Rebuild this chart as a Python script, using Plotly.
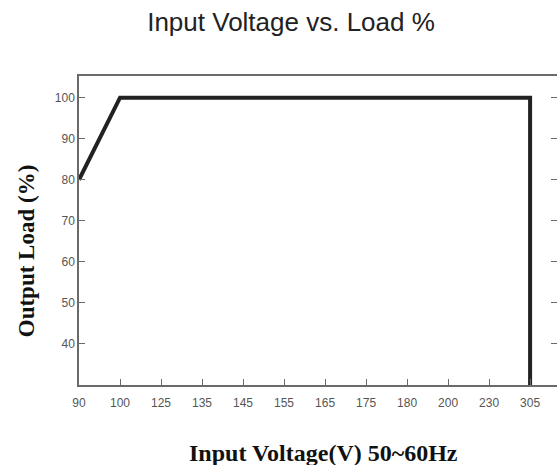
import plotly.graph_objects as go

# Data
tick_labels = ["90", "100", "125", "135", "145", "155", "165", "175", "180", "200", "230", "305"]
voltage = ["90", "100", "305", "305"]
load_pct = [80, 100, 100, 30]
y_ticks = [40, 50, 60, 70, 80, 90, 100]

W, H = 559, 465
L, R, T, B = 79, 0, 76, 80
pw, ph = W - L - R, H - T - B

def px_to_paper_x(px):
    return (px - L) / pw

def px_to_paper_y(py):
    return (H - B - py) / ph

fig = go.Figure()
fig.add_trace(go.Scatter(
    x=voltage, y=load_pct, mode="lines",
    line=dict(color="#222222", width=4),
    showlegend=False, hoverinfo="skip", cliponaxis=False,
))

axis_col = "#6a6a6a"
tick_font = dict(family="Liberation Sans, Arial", size=12, color="#555555")

fig.update_layout(
    width=W, height=H,
    margin=dict(l=L, r=R, t=T, b=B),
    paper_bgcolor="white", plot_bgcolor="white",
    title=dict(
        text="Input Voltage vs. Load %",
        font=dict(family="Liberation Sans, Arial", size=26, color="#222222"),
        xref="container", yref="container",
        x=291 / W, y=1 - 22 / H, xanchor="center", yanchor="middle",
    ),
    xaxis=dict(
        type="category", categoryorder="array", categoryarray=tick_labels,
        tickmode="array", tickvals=tick_labels, ticktext=tick_labels,
        range=[0, pw / 41.18],
        showgrid=False, zeroline=False,
        showline=True, linecolor=axis_col, linewidth=1.5, mirror=True,
        ticks="inside", ticklen=6, tickcolor=axis_col, tickwidth=1,
        tickfont=tick_font, ticklabelstandoff=6,
    ),
    yaxis=dict(
        range=[30, 100 + 21.7 / 4.11],
        tickmode="array", tickvals=y_ticks,
        showgrid=False, zeroline=False,
        showline=True, linecolor=axis_col, linewidth=1.5, mirror="ticks",
        ticks="inside", ticklen=6, tickcolor=axis_col, tickwidth=1,
        tickfont=tick_font,
    ),
    annotations=[
        dict(
            text="<b>Output Load (%)</b>", textangle=-90,
            xref="paper", yref="paper",
            x=px_to_paper_x(26), y=px_to_paper_y(251),
            xanchor="center", yanchor="middle", showarrow=False,
            font=dict(family="Liberation Serif, Times New Roman", size=23, color="#111111"),
        ),
        dict(
            text="<b>Input Voltage(V) 50~60Hz</b>",
            xref="paper", yref="paper",
            x=px_to_paper_x(324.5), y=px_to_paper_y(453),
            xanchor="center", yanchor="middle", showarrow=False,
            font=dict(family="Liberation Serif, Times New Roman", size=24, color="#111111"),
        ),
    ],
)

fig.write_html(
    "out.html",
    config={"displayModeBar": False},
    post_script="document.body.style.margin='0';document.body.style.overflow='hidden';",
)
